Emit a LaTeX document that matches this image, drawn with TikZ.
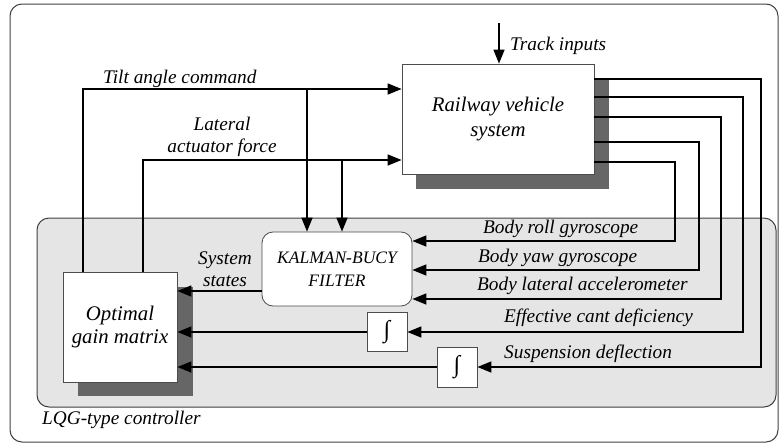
\documentclass[tikz,border=0pt]{standalone}
\usepackage{fontspec}
\setmainfont{Liberation Serif}
\usetikzlibrary{arrows.meta}
\begin{document}
\begin{tikzpicture}[x=1pt,y=-1pt,
  sig/.style={line width=1.6pt, -{Triangle[length=14pt,width=11pt]}},
  blk/.style={draw=black!70, line width=0.8pt, fill=white, align=center, inner sep=0pt,
    font=\fontsize{20.8}{23}\selectfont\itshape},
  shade/.style={fill=black!60, draw=none},
  lbl/.style={font=\fontsize{19.3}{22}\selectfont\itshape, inner sep=0pt}
]
\useasboundingbox (0,0) rectangle (780,445);
\draw[draw=black!75, line width=1pt, rounded corners=12pt] (10,4) rectangle (778,442);
\draw[draw=black!75, fill=black!10, line width=1pt, rounded corners=12pt] (37,218) rectangle (776,407);
% shadows
\fill[shade] (416,80) rectangle (609,189);
\fill[shade] (78,287) rectangle (193,396);
% blocks
\node[blk, minimum width=192pt, minimum height=110pt, font=\fontsize{20.8}{25}\selectfont\itshape] (rv) at (498,119) {Railway vehicle\\system};
\node[blk, minimum width=114pt, minimum height=110pt] (og) at (120,327) {Optimal\\gain matrix};
\node[blk, rounded corners=11pt, minimum width=150pt, minimum height=74pt,
  font=\fontsize{17.5}{23}\selectfont\itshape] (kb) at (337,269) {KALMAN-BUCY\\FILTER};
\node[blk, minimum width=40pt, minimum height=39pt, font=\fontsize{24}{24}\selectfont] (i1) at (387,332) {∫};
\node[blk, minimum width=40pt, minimum height=40pt, font=\fontsize{24}{24}\selectfont] (i2) at (457,367) {∫};
% coordinates
\coordinate (ti) at (499,23);
\coordinate (o1) at (761,79);
\coordinate (o2) at (743,97);
\coordinate (o3) at (721,117);
\coordinate (o4) at (699,142);
\coordinate (o5) at (675,162);
\coordinate (ta) at (83,89);
\coordinate (la) at (143,160);
\coordinate (d1) at (307,89);
\coordinate (d2) at (342,160);
% track input
\draw[sig] (ti) -- (ti |- rv.north);
% outputs
\draw[sig] (rv.east |- o1) -- (o1) |- (i2.east);
\draw[sig] (rv.east |- o2) -- (o2) |- (i1.east);
\draw[sig] (rv.east |- o3) -- (o3) |- (kb.east |- 0,299);
\draw[sig] (rv.east |- o4) -- (o4) |- (kb.east |- 0,270);
\draw[sig] (rv.east |- o5) -- (o5) |- (kb.east |- 0,241);
% to gain matrix
\draw[sig] (kb.west |- 0,291) -- (og.east |- 0,291);
\draw[sig] (i1.west) -- (og.east |- i1.west);
\draw[sig] (i2.west) -- (og.east |- i2.west);
% gain outputs
\draw[sig] (og.north -| ta) -- (ta) -- (rv.west |- ta);
\draw[sig] (og.north -| la) -- (la) -- (rv.west |- la);
\draw[sig] (d1) -- (d1 |- kb.north);
\draw[sig] (d2) -- (d2 |- kb.north);
% labels
\node[lbl, anchor=base west] at (510,50) {Track inputs};
\node[lbl, anchor=base west] at (103,83) {Tilt angle command};
\node[lbl, align=center] at (222,137) {Lateral\\actuator force};
\node[lbl, align=center] at (225,269) {System\\states};
\node[lbl, anchor=base west] at (483,233) {Body roll gyroscope};
\node[lbl, anchor=base west] at (478,262) {Body yaw gyroscope};
\node[lbl, anchor=base west] at (477,290) {Body lateral accelerometer};
\node[lbl, anchor=base west] at (504,322) {Effective cant deficiency};
\node[lbl, anchor=base west] at (504,358) {Suspension deflection};
\node[lbl, anchor=base west] at (42,424) {LQG-type controller};
\end{tikzpicture}
\end{document}
